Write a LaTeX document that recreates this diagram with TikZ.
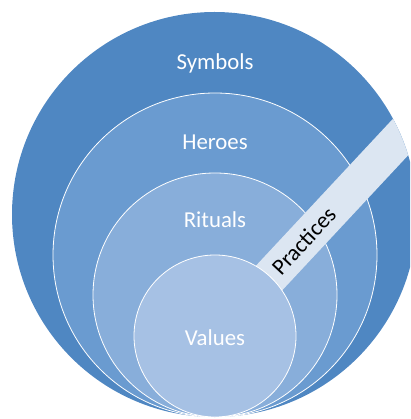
\documentclass[tikz,border=0pt]{standalone}
\usepackage{fontspec}
\setmainfont{Carlito}
\usetikzlibrary{calc}

\definecolor{ringA}{HTML}{4F87C2}
\definecolor{ringB}{HTML}{6A9BD0}
\definecolor{ringC}{HTML}{88AEDA}
\definecolor{ringD}{HTML}{A6C1E4}
\definecolor{bandcol}{HTML}{DCE6F2}

\tikzset{
  ring/.style={draw=white, line width=0.8pt},
  layerlabel/.style={text=white, anchor=base, inner sep=0pt,
    font=\fontsize{22.8}{27}\selectfont},
  bandlabel/.style={text=black, anchor=center, inner sep=0pt, rotate=47,
    font=\fontsize{22.8}{27}\selectfont},
}

\begin{document}
\begin{tikzpicture}[x=1pt, y=-1pt]
  \useasboundingbox (0,0) rectangle (410,419);
  \clip (0,0) rectangle (410,419);

  % concentric layers, all touching at the bottom
  \coordinate (cS) at (214.5,214.5);
  \coordinate (cH) at (215,255);
  \coordinate (cR) at (215,295);
  \coordinate (cV) at (215,336);

  \fill[ringA] (cS) circle (202.5);
  \filldraw[ring, fill=ringB] (cH) circle (162);
  \filldraw[ring, fill=ringC] (cR) circle (122);

  % the practices band, cut off by the outer layer
  \begin{scope}
    \clip (cS) circle (202.5);
    \fill[bandcol] ($(cV)+(43:18)$) -- ($(cV)+(43:18)+(-47:340)$)
      -- ($(cV)+(223:18)+(-47:340)$) -- ($(cV)+(223:18)$) -- cycle;
  \end{scope}

  \filldraw[ring, fill=ringD] (cV) circle (81);

  % labels
  \node[layerlabel] (symbols) at (215,69.3) {Symbols};
  \node[layerlabel] (heroes) at (215,150) {Heroes};
  \node[layerlabel] (rituals) at (215,227.7) {Rituals};
  \node[layerlabel] (values) at (215,345.7) {Values};
  \node[bandlabel] (practices) at ($(cV)+(-47:130)$) {Practices};
\end{tikzpicture}
\end{document}
